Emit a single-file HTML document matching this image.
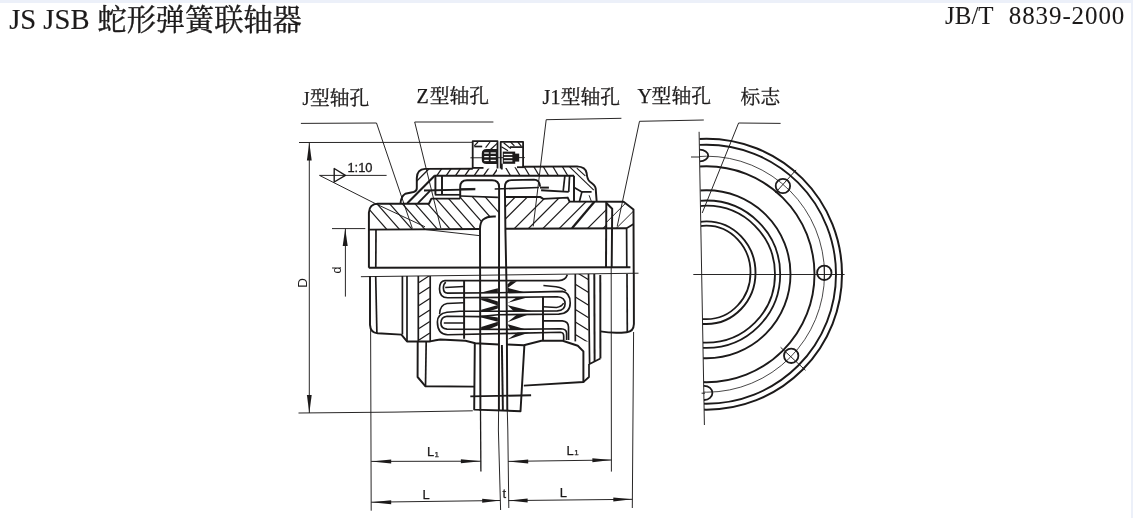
<!DOCTYPE html>
<html lang="zh"><head><meta charset="utf-8"><title>JS JSB 蛇形弹簧联轴器</title>
<style>
html,body{margin:0;padding:0;background:#fff;}
body{width:1133px;height:518px;overflow:hidden;position:relative;font-family:"Liberation Sans",sans-serif;}
.top{position:absolute;left:0;top:0;width:1133px;height:3px;background:#ecf0f9;}
.right{position:absolute;left:1131px;top:0;width:2px;height:518px;background:#ecf0f9;}
svg{position:absolute;left:0;top:0;will-change:transform;}
</style></head><body>
<div class="top"></div><div class="right"></div>
<svg role="img" aria-label="JS JSB 蛇形弹簧联轴器 JB/T 8839-2000" width="1133" height="518" viewBox="0 0 1133 518" stroke="#1c1a1a" fill="none" stroke-linecap="butt" stroke-linejoin="round">
<desc>JS JSB 蛇形弹簧联轴器 — J型轴孔, Z型轴孔, J1型轴孔, Y型轴孔, 标志; D, d, 1:10, L1, L, t</desc>
<text x="9.2" y="29.2" font-size="28.6" font-family="'Liberation Serif', sans-serif" fill="#1c1a1a" stroke="#1c1a1a" stroke-width="0.15" >JS JSB</text>
<text x="97.5" y="29.9" font-size="29.2" font-family="'Liberation Serif', 'Noto Serif CJK SC', serif" fill="#1c1a1a" stroke="#1c1a1a" stroke-width="0.4">蛇形弹簧联轴器</text>
<text x="945.0" y="23.9" font-size="25" font-family="'Liberation Serif', sans-serif" fill="#1c1a1a" stroke="#1c1a1a" stroke-width="0.05" >JB/T</text>
<text x="1008.8" y="23.9" font-size="25" font-family="'Liberation Serif', sans-serif" fill="#1c1a1a" stroke="#1c1a1a" stroke-width="0.05" letter-spacing="0.9">8839-2000</text>
<text x="302.4" y="104.9" font-size="18" font-family="'Liberation Serif', sans-serif" fill="#1c1a1a" stroke="#1c1a1a" stroke-width="0.25" >J</text>
<text x="310.0" y="105.2" font-size="19.8" font-family="'Liberation Serif', 'Noto Serif CJK SC', serif" fill="#1c1a1a" stroke="#1c1a1a" stroke-width="0.3">型轴孔</text>
<text x="416.6" y="102.5" font-size="20" font-family="'Liberation Serif', sans-serif" fill="#1c1a1a" stroke="#1c1a1a" stroke-width="0.25" >Z</text>
<text x="429.8" y="102.8" font-size="19.8" font-family="'Liberation Serif', 'Noto Serif CJK SC', serif" fill="#1c1a1a" stroke="#1c1a1a" stroke-width="0.3">型轴孔</text>
<text x="542.6" y="104.0" font-size="20" font-family="'Liberation Serif', sans-serif" fill="#1c1a1a" stroke="#1c1a1a" stroke-width="0.25" >J1</text>
<text x="560.8" y="104.2" font-size="19.8" font-family="'Liberation Serif', 'Noto Serif CJK SC', serif" fill="#1c1a1a" stroke="#1c1a1a" stroke-width="0.3">型轴孔</text>
<text x="637.4" y="102.5" font-size="20" font-family="'Liberation Serif', sans-serif" fill="#1c1a1a" stroke="#1c1a1a" stroke-width="0.25" >Y</text>
<text x="651.6" y="103.0" font-size="19.8" font-family="'Liberation Serif', 'Noto Serif CJK SC', serif" fill="#1c1a1a" stroke="#1c1a1a" stroke-width="0.3">型轴孔</text>
<text x="740.6" y="104.2" font-size="19.8" font-family="'Liberation Serif', 'Noto Serif CJK SC', serif" fill="#1c1a1a" stroke="#1c1a1a" stroke-width="0.3">标志</text>
<path d="M300.9,123.4 L376.5,123.0 L412.3,228.3" stroke-width="0.95" fill="none" />
<path d="M493.4,122.0 L414.7,122.0 L440.8,228.0" stroke-width="0.95" fill="none" />
<path d="M621.4,118.3 L546.2,119.7 L533.2,226.4" stroke-width="0.95" fill="none" />
<path d="M703.8,120.0 L639.5,121.3 L617.2,226.4" stroke-width="0.95" fill="none" />
<path d="M780.6,123.4 L738.6,123.0 L702.2,213.0" stroke-width="0.95" fill="none" />
<path d="M299.0,142.5 L472.5,142.3" stroke-width="0.95" fill="none" />
<path d="M298.5,413.0 L395.0,412.1 L472.8,410.8" stroke-width="0.95" fill="none" />
<line x1="309.3" y1="142.5" x2="309.3" y2="413.0" stroke-width="0.95" />
<path d="M309.3,142.5 L306.9,160.5 L311.7,160.5 Z" fill="#1c1a1a" stroke="none"/>
<path d="M309.3,413.0 L311.7,395.0 L306.9,395.0 Z" fill="#1c1a1a" stroke="none"/>
<text transform="translate(307.0,282.8) rotate(-90)" text-anchor="middle" font-size="13.5" font-family="'Liberation Sans', sans-serif" fill="#1c1a1a" stroke="none">D</text>
<path d="M332.0,228.6 L365.3,228.6" stroke-width="0.95" fill="none" />
<line x1="345.4" y1="228.6" x2="345.4" y2="296.6" stroke-width="0.95" />
<path d="M345.2,228.6 L342.7,246.1 L347.7,246.1 Z" fill="#1c1a1a" stroke="none"/>
<text transform="translate(341.3,270.0) rotate(-90)" text-anchor="middle" font-size="12.5" font-family="'Liberation Sans', sans-serif" fill="#1c1a1a" stroke="none">d</text>
<path d="M319.5,175.4 L386.6,175.4" stroke-width="0.95" fill="none" />
<path d="M334.2,168.5 L334.2,182.0 L345.4,175.3 Z" stroke-width="1.4" fill="none" />
<path d="M319.5,175.4 L375.3,203.6 L425.0,226.8" stroke-width="0.95" fill="none" />
<text x="347.4" y="171.9" font-size="12.9" font-family="'Liberation Sans', sans-serif" fill="#1c1a1a" stroke="#1c1a1a" stroke-width="0.3" >1:10</text>
<path d="M370.6,325.0 L371.2,510.7" stroke-width="0.95" fill="none" />
<path d="M480.5,411.0 L480.9,471.6" stroke-width="1.3" fill="none" />
<path d="M498.6,411.0 L498.4,430.0 L500.6,510.0" stroke-width="0.95" fill="none" />
<path d="M507.3,411.0 L507.8,430.0 L508.8,508.0" stroke-width="0.95" fill="none" />
<path d="M611.2,267.0 L611.4,471.6" stroke-width="0.95" fill="none" />
<path d="M633.6,332.0 L632.3,508.0" stroke-width="0.95" fill="none" />
<path d="M371.2,461.4 L480.9,461.2" stroke-width="0.95" fill="none" />
<path d="M371.2,461.4 L391.2,463.4 L391.2,459.4 Z" fill="#1c1a1a" stroke="none"/>
<path d="M480.9,461.2 L460.9,459.2 L460.9,463.2 Z" fill="#1c1a1a" stroke="none"/>
<text x="427.0" y="456.4" font-size="13" font-family="'Liberation Sans', sans-serif" fill="#1c1a1a" stroke="#1c1a1a" stroke-width="0.25" >L</text>
<text x="434.6" y="456.6" font-size="8" font-family="'Liberation Sans', sans-serif" fill="#1c1a1a" stroke="#1c1a1a" stroke-width="0.25" >1</text>
<path d="M371.2,502.2 L500.2,500.5" stroke-width="0.95" fill="none" />
<path d="M371.2,502.2 L391.2,504.2 L391.2,500.2 Z" fill="#1c1a1a" stroke="none"/>
<path d="M500.2,500.5 L482.2,498.7 L482.2,502.7 Z" fill="#1c1a1a" stroke="none"/>
<text x="422.6" y="498.9" font-size="13" font-family="'Liberation Sans', sans-serif" fill="#1c1a1a" stroke="#1c1a1a" stroke-width="0.25" >L</text>
<text x="502.4" y="498.0" font-size="13" font-family="'Liberation Sans', sans-serif" fill="#1c1a1a" stroke="#1c1a1a" stroke-width="0.25" >t</text>
<path d="M508.2,461.4 L611.4,460.0" stroke-width="0.95" fill="none" />
<path d="M508.2,461.4 L528.2,463.4 L528.2,459.4 Z" fill="#1c1a1a" stroke="none"/>
<path d="M611.4,460.0 L592.4,458.2 L592.4,462.2 Z" fill="#1c1a1a" stroke="none"/>
<text x="566.5" y="455.1" font-size="13" font-family="'Liberation Sans', sans-serif" fill="#1c1a1a" stroke="#1c1a1a" stroke-width="0.25" >L</text>
<text x="574.2" y="455.3" font-size="8" font-family="'Liberation Sans', sans-serif" fill="#1c1a1a" stroke="#1c1a1a" stroke-width="0.25" >1</text>
<path d="M508.6,500.6 L632.3,499.3" stroke-width="0.95" fill="none" />
<path d="M508.6,500.6 L527.6,502.6 L527.6,498.6 Z" fill="#1c1a1a" stroke="none"/>
<path d="M632.3,499.3 L613.3,497.5 L613.3,501.5 Z" fill="#1c1a1a" stroke="none"/>
<text x="559.8" y="496.7" font-size="13" font-family="'Liberation Sans', sans-serif" fill="#1c1a1a" stroke="#1c1a1a" stroke-width="0.25" >L</text>
<path d="M360.9,276.7 L500.0,275.0 L638.5,273.2" stroke-width="0.95" fill="none" />
<path d="M368.9,267.8 L368.9,212.5 Q369.3,204 377.6,203.6 L428.9,203.7 L431.4,198.6 L460.2,198.6" stroke-width="1.95" fill="none" />
<path d="M460.2,196.0 L497.9,197.3" stroke-width="1.7" fill="none" />
<path d="M368.9,229.6 L479.3,229.0" stroke-width="1.95" fill="none" />
<path d="M368.8,267.8 L630.4,267.3" stroke-width="1.95" fill="none" />
<line x1="376.0" y1="229.6" x2="375.8" y2="267.7" stroke-width="1.7" />
<path d="M426.0,229.6 L479.3,235.6" stroke-width="0.95" fill="none" />
<path d="M495.8,216.5 Q487,216 483,219.6 Q480.0,222.6 480.0,229 L480.4,411" stroke-width="1.95" fill="none" />
<path d="M460.2,198.6 L460.2,187 Q460.2,180.2 467,180.2 L492,180.2 Q499.1,180.2 499.1,187 L498.9,411" stroke-width="1.95" fill="none" />
<path d="M507.3,411 L506.9,340 L506.6,290 L505.4,230 L504.9,187 Q504.9,180.2 511.5,180.1 L534,179.6 Q539.6,179.6 540.1,186.6" stroke-width="1.95" fill="none" />
<path d="M540.0,187.6 L548.9,187.6" stroke-width="1.95" fill="none" />
<path d="M501.9,345.0 L502.9,411.0" stroke-width="1.95" fill="none" />
<path d="M400.5,203.6 Q400.9,196.6 405.3,193.8 L413.6,192.0 Q416.8,191.2 416.8,188.3 L416.8,178 Q417.0,169.3 425.0,168.9 L472.8,168.7" stroke-width="1.95" fill="none" />
<path d="M434.2,175.8 L574.0,175.7" stroke-width="1.95" fill="none" />
<path d="M434.6,175.8 L407.3,203.2" stroke-width="2.1" fill="none" />
<path d="M430.0,190.8 L418.0,203.2" stroke-width="1.9" fill="none" />
<line x1="435.4" y1="175.8" x2="435.4" y2="194.4" stroke-width="1.95" />
<line x1="442.0" y1="175.8" x2="442.0" y2="194.4" stroke-width="1.95" />
<path d="M434.8,194.8 L460.2,194.8" stroke-width="1.7" fill="none" />
<path d="M424.0,190.5 L475.3,189.4" stroke-width="1.95" fill="none" />
<path d="M460.2,188.7 L475.3,188.4" stroke-width="0.95" fill="none" />
<path d="M494.7,189.0 L538.9,187.5" stroke-width="1.7" fill="none" />
<path d="M472.7,168.6 L472.7,141.2 L497.5,141.2 L497.5,168.6" stroke-width="1.8" fill="none" />
<path d="M500.7,168.6 L500.7,141.8 L523.1,141.8 L523.1,167.0" stroke-width="1.8" fill="none" />
<path d="M470.4,157.8 L524.8,157.6" stroke-width="0.95" fill="none" />
<line x1="501.8" y1="163.6" x2="501.8" y2="169.5" stroke-width="1.8" />
<path d="M522.5,166.8 L577.0,166.4 Q585.6,166.8 586.6,173 Q587.2,179.6 590.0,181.8 Q595.4,185.4 595.7,188.6 L596.7,202" stroke-width="1.95" fill="none" />
<line x1="574.0" y1="175.7" x2="574.0" y2="201.7" stroke-width="1.95" />
<path d="M569.1,166.4 L593.8,190.2" stroke-width="1.1" fill="none" />
<line x1="564.9" y1="175.7" x2="563.2" y2="190.8" stroke-width="1.7" />
<line x1="569.6" y1="175.7" x2="568.7" y2="191.9" stroke-width="1.7" />
<path d="M541.1,190.2 L568.7,191.9" stroke-width="1.95" fill="none" />
<path d="M573.8,187.2 L581.9,191.9 L591.6,191.9" stroke-width="1.7" fill="none" />
<line x1="581.9" y1="191.9" x2="579.3" y2="202.0" stroke-width="1.7" />
<line x1="589.1" y1="195.3" x2="591.6" y2="202.0" stroke-width="0.95" />
<path d="M505.4,196.9 L540.1,196.9 L543.2,198.9 L567.7,197.6 L569.6,201.6 L623.6,201.8 L633.5,209.6 L633.7,274" stroke-width="1.95" fill="none" />
<path d="M633.6,224.0 L626.6,228.2 L626.8,267.3" stroke-width="1.7" fill="none" />
<path d="M505.4,228.7 L626.6,228.2" stroke-width="1.95" fill="none" />
<path d="M606.3,202.0 L606.0,267.3" stroke-width="1.95" fill="none" />
<path d="M606.3,203.0 L612.2,208.8 L611.7,267.3" stroke-width="1.95" fill="none" />
<path d="M572.0,228.2 L594.4,201.8" stroke-width="2.3" fill="none" />
<line x1="472.0" y1="167.9" x2="483.5" y2="167.9" stroke-width="1.8" />
<line x1="517.0" y1="167.2" x2="523.8" y2="167.2" stroke-width="1.8" />
<path d="M498,149.0 L486.5,149.0 Q481.8,149.2 481.8,153.4 L481.8,160 Q481.8,164 486.5,164 L498,164 Z" fill="#1c1a1a" stroke="none"/>
<rect x="502.8" y="151.6" width="12.4" height="12.2" fill="#1c1a1a" stroke="none"/>
<rect x="515.0" y="153.6" width="4.2" height="8.0" fill="#1c1a1a" stroke="none"/>
<rect x="484.2" y="152.4" width="4.6" height="1.3" fill="#fff" stroke="none"/>
<rect x="490.6" y="152.4" width="5.2" height="1.3" fill="#fff" stroke="none"/>
<rect x="484.2" y="156.0" width="4.6" height="1.3" fill="#fff" stroke="none"/>
<rect x="490.6" y="156.0" width="5.2" height="1.3" fill="#fff" stroke="none"/>
<rect x="484.2" y="159.8" width="4.6" height="1.3" fill="#fff" stroke="none"/>
<rect x="490.6" y="159.8" width="5.2" height="1.3" fill="#fff" stroke="none"/>
<rect x="503.8" y="153.8" width="8.6" height="1.3" fill="#fff" stroke="none"/>
<rect x="503.8" y="156.9" width="8.6" height="1.3" fill="#fff" stroke="none"/>
<rect x="503.8" y="160.2" width="8.6" height="1.3" fill="#fff" stroke="none"/>
<line x1="474.3" y1="146.5" x2="482.2" y2="146.5" stroke-width="1.7" />
<line x1="510.0" y1="147.1" x2="523.0" y2="147.1" stroke-width="1.7" />
<line x1="474.3" y1="145.8" x2="478.0" y2="142.0" stroke-width="1.2" />
<line x1="485.6" y1="147.6" x2="490.0" y2="142.0" stroke-width="1.2" />
<line x1="490.0" y1="150.0" x2="497.2" y2="143.4" stroke-width="1.2" />
<line x1="501.4" y1="146.8" x2="508.0" y2="150.8" stroke-width="1.2" />
<line x1="503.6" y1="142.8" x2="510.8" y2="148.6" stroke-width="1.2" />
<line x1="510.6" y1="142.0" x2="514.4" y2="145.8" stroke-width="1.2" />
<line x1="517.8" y1="142.0" x2="521.4" y2="146.4" stroke-width="1.2" />
<clipPath id="c1"><polygon points="369.3,229.3 369.3,210.0 371.0,206.0 376.0,203.7 428.9,203.8 431.4,198.6 460.2,198.6 460.2,196.0 498.9,197.3 498.9,216.4 490.4,215.7 483.0,218.5 480.3,222.6 480.3,228.9"/></clipPath>
<g clip-path="url(#c1)">
<line x1="350.9" y1="188.6" x2="394.9" y2="238.6" stroke-width="1.2" />
<line x1="363.6" y1="188.6" x2="407.6" y2="238.6" stroke-width="1.2" />
<line x1="376.3" y1="188.6" x2="420.3" y2="238.6" stroke-width="1.2" />
<line x1="389.0" y1="188.6" x2="433.0" y2="238.6" stroke-width="1.2" />
<line x1="401.7" y1="188.6" x2="445.7" y2="238.6" stroke-width="1.2" />
<line x1="414.4" y1="188.6" x2="458.4" y2="238.6" stroke-width="1.2" />
<line x1="427.1" y1="188.6" x2="471.1" y2="238.6" stroke-width="1.2" />
<line x1="439.8" y1="188.6" x2="483.8" y2="238.6" stroke-width="1.2" />
<line x1="452.5" y1="188.6" x2="496.5" y2="238.6" stroke-width="1.2" />
<line x1="465.2" y1="188.6" x2="509.2" y2="238.6" stroke-width="1.2" />
<line x1="477.9" y1="188.6" x2="521.9" y2="238.6" stroke-width="1.2" />
<line x1="490.6" y1="188.6" x2="534.6" y2="238.6" stroke-width="1.2" />
</g>
<clipPath id="c2"><polygon points="505.4,196.9 540.1,196.9 543.2,198.9 567.7,197.6 569.6,201.6 606.3,201.8 606.3,228.3 505.4,228.7"/></clipPath>
<g clip-path="url(#c2)">
<line x1="472.3" y1="240.0" x2="522.3" y2="190.0" stroke-width="1.2" />
<line x1="484.4" y1="240.0" x2="534.4" y2="190.0" stroke-width="1.2" />
<line x1="502.9" y1="240.0" x2="552.9" y2="190.0" stroke-width="1.2" />
<line x1="517.0" y1="240.0" x2="567.0" y2="190.0" stroke-width="1.2" />
<line x1="531.4" y1="240.0" x2="581.4" y2="190.0" stroke-width="1.2" />
<line x1="547.7" y1="240.0" x2="597.7" y2="190.0" stroke-width="1.2" />
<line x1="576.0" y1="240.0" x2="626.0" y2="190.0" stroke-width="1.2" />
<line x1="591.5" y1="240.0" x2="641.5" y2="190.0" stroke-width="1.2" />
</g>
<clipPath id="c3"><polygon points="606.3,201.8 623.6,201.8 633.5,209.6 633.6,224.0 626.6,228.2 606.3,228.3"/></clipPath>
<g clip-path="url(#c3)">
<line x1="588.8" y1="240.0" x2="638.8" y2="190.0" stroke-width="0.95" />
<line x1="604.6" y1="240.0" x2="654.6" y2="190.0" stroke-width="0.95" />
</g>
<clipPath id="c4"><polygon points="416.8,178.0 418.2,171.0 425.0,168.9 472.8,168.7 497.0,168.6 497.0,175.8 434.6,175.8 407.3,203.2 400.5,203.6 401.3,196.6 405.3,193.8 413.6,192.0 416.8,189.0"/></clipPath>
<g clip-path="url(#c4)">
<line x1="429.9" y1="185.7" x2="443.7" y2="165.7" stroke-width="1.3" />
<line x1="439.3" y1="185.7" x2="453.1" y2="165.7" stroke-width="1.3" />
<line x1="448.6" y1="185.7" x2="462.4" y2="165.7" stroke-width="1.3" />
<line x1="458.0" y1="185.7" x2="471.8" y2="165.7" stroke-width="1.3" />
<line x1="467.3" y1="185.7" x2="481.1" y2="165.7" stroke-width="1.3" />
<line x1="476.7" y1="185.7" x2="490.4" y2="165.7" stroke-width="1.3" />
<line x1="486.0" y1="185.7" x2="499.8" y2="165.7" stroke-width="1.3" />
<line x1="376.0" y1="210.0" x2="426.0" y2="160.0" stroke-width="1.3" />
<line x1="387.8" y1="210.0" x2="437.8" y2="160.0" stroke-width="1.3" />
</g>
<clipPath id="c5"><polygon points="497.0,168.6 522.5,166.8 569.1,166.4 574.0,171.2 574.0,175.7 497.0,175.8"/></clipPath>
<g clip-path="url(#c5)">
<line x1="501.2" y1="160.0" x2="513.0" y2="180.0" stroke-width="1.2" />
<line x1="510.8" y1="160.0" x2="522.6" y2="180.0" stroke-width="1.2" />
<line x1="520.3" y1="160.0" x2="532.1" y2="180.0" stroke-width="1.2" />
<line x1="529.9" y1="160.0" x2="541.7" y2="180.0" stroke-width="1.2" />
<line x1="539.4" y1="160.0" x2="551.2" y2="180.0" stroke-width="1.2" />
<line x1="549.0" y1="160.0" x2="560.8" y2="180.0" stroke-width="1.2" />
<line x1="558.5" y1="160.0" x2="570.3" y2="180.0" stroke-width="1.2" />
</g>
<line x1="576.8" y1="168.1" x2="585.3" y2="175.9" stroke-width="1.1" />
<clipPath id="c6"><polygon points="418.3,276.0 430.2,276.0 430.2,341.4 418.3,341.4"/></clipPath>
<g clip-path="url(#c6)">
<line x1="419.0" y1="282.6" x2="429.8" y2="275.4" stroke-width="1.2" />
<line x1="419.0" y1="294.1" x2="429.8" y2="286.9" stroke-width="1.2" />
<line x1="419.0" y1="305.6" x2="429.8" y2="298.4" stroke-width="1.2" />
<line x1="419.0" y1="317.1" x2="429.8" y2="309.9" stroke-width="1.2" />
<line x1="419.0" y1="328.6" x2="429.8" y2="321.4" stroke-width="1.2" />
<line x1="419.0" y1="340.1" x2="429.8" y2="332.9" stroke-width="1.2" />
</g>
<clipPath id="c7"><polygon points="575.3,274.0 588.6,274.0 588.6,341.4 575.3,341.4"/></clipPath>
<g clip-path="url(#c7)">
<line x1="575.3" y1="271.6" x2="588.6" y2="279.8" stroke-width="1.2" />
<line x1="575.3" y1="284.3" x2="588.6" y2="292.5" stroke-width="1.2" />
<line x1="575.3" y1="297.0" x2="588.6" y2="305.2" stroke-width="1.2" />
<line x1="575.3" y1="309.6" x2="588.6" y2="317.8" stroke-width="1.2" />
<line x1="575.3" y1="322.0" x2="588.6" y2="330.2" stroke-width="1.2" />
<line x1="575.3" y1="334.4" x2="588.6" y2="342.6" stroke-width="1.2" />
</g>
<path d="M370.0,276 L370.0,325 Q370.4,332.6 377.5,333.2 L401.4,334.6 L407,341.4 L430.2,341.4 Q436,340 440.3,339.5 L465.4,340.8 L475.4,343.3 L499,344.5" stroke-width="1.95" fill="none" />
<path d="M375.7,276.0 L376.9,333.0" stroke-width="1.7" fill="none" />
<line x1="402.4" y1="276.0" x2="402.4" y2="334.4" stroke-width="1.7" />
<line x1="407.0" y1="276.0" x2="407.0" y2="341.4" stroke-width="1.7" />
<line x1="418.3" y1="276.0" x2="418.3" y2="341.4" stroke-width="1.7" />
<line x1="430.2" y1="276.0" x2="430.2" y2="341.4" stroke-width="1.7" />
<path d="M417.7,341.4 L417.6,377.0 L425.5,386.3 L474.2,386.6" stroke-width="1.95" fill="none" />
<path d="M426.2,341.4 L425.5,386.3" stroke-width="1.7" fill="none" />
<path d="M474.8,343.2 L474.2,409.6 L520.5,411.2 L524.4,345.0" stroke-width="1.95" fill="none" />
<path d="M470.3,396.4 L531.1,395.2" stroke-width="1.95" fill="none" />
<path d="M506.9,344.5 L523.8,345.2 L541.4,340.8 L562.7,340.8 L577.8,345.8 L583.4,351.4 L583.4,382.0 L523.8,385.6" stroke-width="1.95" fill="none" />
<path d="M583.4,382.0 L589.0,377.0 L589.0,364.0" stroke-width="1.7" fill="none" />
<path d="M575.3,274.0 L575.3,341.4" stroke-width="1.7" fill="none" />
<path d="M588.5,274.0 L589.6,364.0 L600.4,358.4" stroke-width="1.7" fill="none" />
<path d="M594.3,274.0 L594.6,361.0" stroke-width="1.95" fill="none" />
<path d="M600.3,275.0 L600.4,358.4" stroke-width="1.95" fill="none" />
<path d="M633.8,274 L633.9,324 Q633.6,331.6 626.8,332.2 Q613,333.6 600.4,331.4" stroke-width="1.95" fill="none" />
<path d="M627.0,274.0 L627.3,332.0" stroke-width="1.7" fill="none" />
<line x1="464.1" y1="281.0" x2="464.1" y2="338.8" stroke-width="1.95" />
<line x1="543.0" y1="296.7" x2="543.0" y2="340.2" stroke-width="1.95" />
<path d="M567.3,274.8 Q565.6,280.4 558.7,280.6 L444.9,280.6 Q439.5,281 439.5,289 Q439.5,297.6 447.7,297.8 L506,297.4 L557.3,296.7 Q565.1,297.2 565.1,303.7 Q565.1,310.3 557.3,310.9 L506,311.2 L460,311.2 L447,312.2 Q437.4,313.6 437.4,322 Q437.4,334.2 447.7,334.8 L512,333.4 L560.4,332.3 Q563.7,332.6 563.7,336 L563.7,340" stroke-width="1.65" fill="none" />
<path d="M445.8,282.2 Q443.4,284 443.4,288 Q443.4,293 447.6,293.1 L498,292.8 L562.3,291.4 Q570.2,292.6 570.2,303 Q570.2,313.6 558.7,314.1 L498,314.8 L480,316.6 L447,316.2 Q440.9,317 440.9,323 Q440.9,328.8 447,329.1 L512,329.4 L560.9,328.7 Q566.6,329 566.6,333.2 L566.6,340" stroke-width="1.65" fill="none" />
<path d="M543,320.9 L562.3,320.9 Q568.4,321.4 568.5,327 L568.6,340" stroke-width="1.65" fill="none" />
<path d="M445.2,287.5 L463.8,286.6" stroke-width="1.5" fill="none" />
<path d="M443.8,323.0 L463.8,323.0" stroke-width="1.5" fill="none" />
<path d="M543.4,285.6 L556,286.7 Q564,288 565.9,291.2" stroke-width="1.5" fill="none" />
<path d="M543,306.8 L556.5,307.5 Q561.6,306.8 563.6,303.2" stroke-width="1.5" fill="none" />
<path d="M439.6,314 Q440,304.6 447,303.5 L463.8,302.8" stroke-width="1.5" fill="none" />
<path d="M481.2,292.6 L497.9,288.2 L497.9,292.9 Z" fill="#1c1a1a" stroke="none"/>
<path d="M481.2,298.2 L487.5,298.2 L497.9,301.6 L497.9,305.6 L481.2,300.0 Z" fill="#1c1a1a" stroke="none"/>
<path d="M481.2,311.2 L481.2,309.8 L497.9,305.0 L497.9,308.6 L489.0,311.2 Z" fill="#1c1a1a" stroke="none"/>
<path d="M481.2,315.6 L486.0,315.8 L497.9,317.6 L497.9,321.8 L481.2,317.6 Z" fill="#1c1a1a" stroke="none"/>
<path d="M481.2,327.0 L497.9,321.8 L497.9,325.6 L489.5,329.0 L481.2,329.0 Z" fill="#1c1a1a" stroke="none"/>
<path d="M507.5,288.2 L516.9,281.2 L510.6,281.2 L507.5,284.5 Z" fill="#1c1a1a" stroke="none"/>
<path d="M507.5,287.8 L524.6,292.2 L507.5,292.9 Z" fill="#1c1a1a" stroke="none"/>
<path d="M507.5,303.0 L517.0,297.2 L528.2,297.2 Z" fill="#1c1a1a" stroke="none"/>
<path d="M507.5,305.2 L532.0,311.2 L513.8,311.2 Z" fill="#1c1a1a" stroke="none"/>
<path d="M507.5,322.2 L516.4,315.0 L527.0,315.0 Z" fill="#1c1a1a" stroke="none"/>
<path d="M507.5,324.2 L524.4,328.9 L510.2,328.9 Z" fill="#1c1a1a" stroke="none"/>
<path d="M507.5,339.6 L517.6,332.6 L529.5,332.6 Z" fill="#1c1a1a" stroke="none"/>
<clipPath id="half"><polygon points="699.3,120 900,120 900,440 704.6,440"/></clipPath>
<g clip-path="url(#half)">
<circle cx="706.5" cy="274.2" r="135.5" stroke-width="2.0" fill="none"/>
<circle cx="706.5" cy="274.2" r="129.5" stroke-width="1.9" fill="none"/>
<circle cx="706.5" cy="274.2" r="118" stroke-width="0.8" fill="none"/>
<circle cx="706.5" cy="274.2" r="108" stroke-width="1.9" fill="none"/>
<circle cx="706.5" cy="274.2" r="84" stroke-width="1.9" fill="none"/>
<circle cx="706.5" cy="274.2" r="73.7" stroke-width="1.8" fill="none"/>
<circle cx="706.5" cy="274.2" r="68.5" stroke-width="1.8" fill="none"/>
<ellipse cx="706.5" cy="272.7" rx="49.0" ry="51.3" stroke-width="1.9" fill="none"/>
<ellipse cx="706.5" cy="272.4" rx="44.0" ry="46.8" stroke-width="1.8" fill="none"/>
<ellipse cx="699.8" cy="155.5" rx="8.4" ry="5.8" stroke-width="1.8" fill="none"/>
<ellipse cx="704.2" cy="392.9" rx="8.2" ry="7.1" stroke-width="1.8" fill="none"/>
</g>
<path d="M699.1,131.8 L704.4,425.0" stroke-width="0.95" fill="none" />
<path d="M693.3,274.5 L844.6,274.5" stroke-width="0.95" fill="none" />
<circle cx="824.3" cy="272.8" r="7.2" stroke-width="1.8" fill="none"/>
<circle cx="782.9" cy="186.0" r="7.2" stroke-width="1.8" fill="none"/>
<circle cx="791.2" cy="355.8" r="7.2" stroke-width="1.8" fill="none"/>
<line x1="824.3" y1="265.0" x2="824.3" y2="281.0" stroke-width="0.95" />
<line x1="775.4" y1="192.8" x2="796.1" y2="169.9" stroke-width="0.95" />
<line x1="780.6" y1="347.3" x2="805.5" y2="370.3" stroke-width="0.95" />
<line x1="691.0" y1="157.0" x2="700.0" y2="157.0" stroke-width="0.95" />
<line x1="701.6" y1="393.2" x2="705.0" y2="393.2" stroke-width="0.95" />
</svg>
</body></html>
